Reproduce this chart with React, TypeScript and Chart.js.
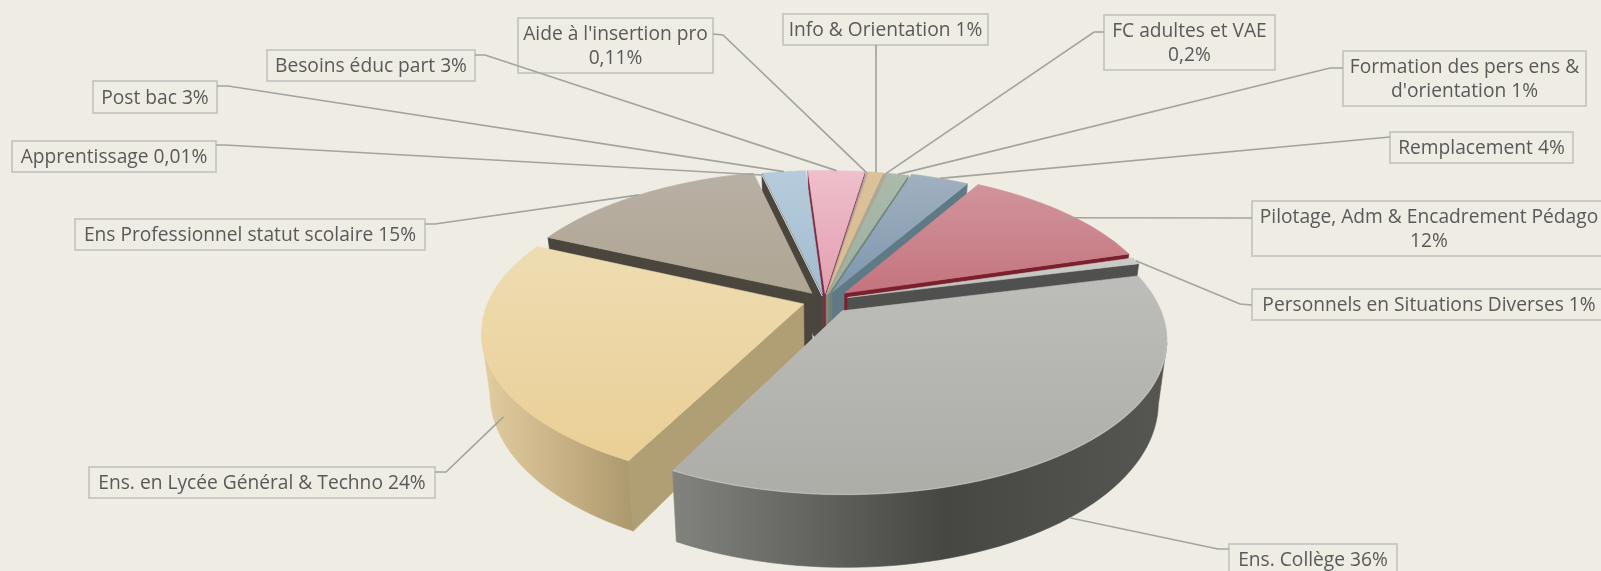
import React, { useEffect, useRef } from "react";
import { Chart, registerables } from "chart.js";

Chart.register(...registerables);

// ---- data (clockwise from the right-hand edge of "Ens. Collège")
const categories = [
  "Ens. Collège", "Ens. en Lycée Général & Techno", "Ens Professionnel statut scolaire",
  "Apprentissage", "Post bac", "Besoins éduc part", "Aide à l'insertion pro",
  "Info & Orientation", "FC adultes et VAE", "Formation des pers ens & d'orientation",
  "Remplacement", "Pilotage, Adm & Encadrement Pédago", "Personnels en Situations Diverses",
];
const shares = [36.3, 24.2, 14.5, 0.01, 2.6, 3.4, 0.11, 0.9, 0.2, 1.25, 3.5, 12, 0.7];
const labelLines = [
  ["Ens. Collège 36%"], ["Ens. en Lycée Général & Techno 24%"], ["Ens Professionnel statut scolaire 15%"],
  ["Apprentissage 0,01%"], ["Post bac 3%"], ["Besoins éduc part 3%"], ["Aide à l'insertion pro", "0,11%"],
  ["Info & Orientation 1%"], ["FC adultes et VAE", "0,2%"], ["Formation des pers ens &", "d'orientation 1%"],
  ["Remplacement 4%"], ["Pilotage, Adm & Encadrement Pédago", "12%"], ["Personnels en Situations Diverses 1%"],
];
const explode = [28, 22, 20, 10, 15, 15, 12, 15, 12, 15, 20, 26, 24];

// ---- styles
const topFrom = ["#bdbeb9", "#eedcb2", "#b9b0a5", "#f4f3ee", "#b6ccdc", "#efbfcc", "#b8a8a8", "#dcc29b", "#b0a898", "#abbaaa", "#a2b0c0", "#d1949c", "#cbccc7"];
const topTo = ["#acada7", "#eacf96", "#aea593", "#f0efe8", "#a2bccf", "#e39fb0", "#b0a0a0", "#d8bc90", "#a8a090", "#9eb0a0", "#7d97ad", "#c4747e", "#c0c1bc"];
const sideWall = ["#5a5b58", "#b09f75", "#4a463e", "#4a463e", "#4a5250", "#7a2d44", "#8a8070", "#b0a070", "#8a8a70", "#6f8478", "#5f7a85", "#7a1f2c", "#50514f"];
const rimFrom = ["#82837e", "#e2cda0", "#8a8376", "#8a8376", "#6f8090", "#b0707f", "#a8966f", "#a8966f", "#a8966f", "#6f8478", "#5f7a85", "#7a3a44", "#6a6b68"];
const rimMid = ["#464643", "#c8b285", "#6a6458", "#6a6458", "#5f7080", "#90505f", "#988660", "#988660", "#988660", "#5f7468", "#566e78", "#6a2f38", "#5a5b58"];
const rimTo = ["#565653", "#ad9a6e", "#5a5448", "#5a5448", "#55606c", "#80404f", "#887650", "#887650", "#887650", "#4f6458", "#4a5f68", "#5a2530", "#4e4f4c"];
const rimGlow = [0.2, 0, 0, 0, 0, 0, 0, 0, 0, 0, 0, 0, 0];

// ---- perspective of the tilted disc
const TILT = 0.467;
const PERSP = 0.177;
const DEPTH = 59;
const SHRINK = 0.025;
const RADIUS = 315;
const STEP = Math.PI / 90;

// ---- callout boxes: [left, top, right, bottom], then the elbow of the leader
const boxes = [
  [1229, 544, 1397, 575], [89, 467, 435, 498], [75, 219, 425, 250], [12, 141, 216, 172],
  [93, 81, 217, 113], [267, 50, 475, 81], [518, 18, 713, 73], [783, 14, 988, 45],
  [1104, 15, 1275, 70], [1343, 51, 1586, 106], [1390, 132, 1573, 163], [1252, 201, 1606, 256], [1252, 289, 1606, 320],
];
const elbows = [
  [1229, 549, 1218, 549], [435, 472, 446, 472], [425, 224, 435, 224], [216, 145, 225, 145],
  [217, 86, 228, 86], [475, 55, 485, 55], [713, 34, 723, 35], [876, 45, 876, 45],
  [1104, 32, 1094, 32], [1343, 68, 1330, 68], [1390, 137, 1390, 137], [1252, 218, 1252, 218], [1252, 305, 1240, 304],
];
const leaderDrop = [1, 1, 0, 0, 0, 0, 0, 0, 0, 0, 0, 0.1, 0];
const leaderReach = [1, 0.97, 1, 1, 1, 1, 1, 1, 1, 1, 1, 1, 1];

const FONT = '19.2px "Open Sans"';
const TEXT = "#595959";
const BOX = "#c6c7c2";
const LEADER = "#a3a4a0";
const PAGE = "#eeece3";

const pie3d = {
  id: "pie3d",
  beforeDatasetDraw(chart: any, args: any) {
    const ctx = chart.ctx as CanvasRenderingContext2D;
    const arcs = args.meta.data as any[];
    const project = (el: any, u: number, v: number, z: number) => {
      const w = 1 - PERSP * v;
      return [el.x + ((el.outerRadius * u) / w) * (1 - SHRINK * z), el.y + (el.outerRadius * TILT * v) / w + (z * DEPTH) / w];
    };
    const order = arcs.map((_, i) => i).sort((a, b) => {
      const ma = (arcs[a].startAngle + arcs[a].endAngle) / 2;
      const mb = (arcs[b].startAngle + arcs[b].endAngle) / 2;
      return Math.sin(ma) - Math.sin(mb);
    });
    const poly = (pts: number[][], fill: any) => {
      ctx.beginPath();
      pts.forEach((p, i) => (i ? ctx.lineTo(p[0], p[1]) : ctx.moveTo(p[0], p[1])));
      ctx.closePath();
      ctx.fillStyle = fill;
      ctx.fill();
      ctx.strokeStyle = fill;
      ctx.lineWidth = 0.6;
      ctx.stroke();
    };
    for (const i of order) {
      const el = arcs[i];
      const mid = (el.startAngle + el.endAngle) / 2;
      const off = (el.options.offset || 0) / el.outerRadius;
      const ou = off * Math.cos(mid);
      const ov = off * Math.sin(mid);
      const P = (a: number, r: number, z: number) => project(el, ou + r * Math.cos(a), ov + r * Math.sin(a), z);
      const n = Math.max(2, Math.ceil((el.endAngle - el.startAngle) / STEP));
      const angles = Array.from({ length: n + 1 }, (_, k) => el.startAngle + ((el.endAngle - el.startAngle) * k) / n);
      const apex = P(0, 0, 0);
      const apexB = P(0, 0, 1);
      const top = angles.map((a) => P(a, 1, 0));
      const midPt = P(mid, 1, 0);
      // radial walls which face the viewer
      for (const a of [el.startAngle, el.endAngle]) {
        const e = P(a, 1, 0);
        const dx = e[0] - apex[0];
        const dy = e[1] - apex[1];
        const inner = dx * (midPt[1] - apex[1]) - dy * (midPt[0] - apex[0]);
        if (inner * dx < 0) poly([apex, e, P(a, 1, 1), apexB], sideWall[i]);
      }
      // curved wall: only where the rim runs right-to-left on screen, i.e. faces the viewer
      const front = angles.filter((a, k) => {
        const prev = top[Math.max(k - 1, 0)];
        const next = top[Math.min(k + 1, n)];
        return next[0] < prev[0] && Math.sin(a) > -0.2;
      });
      if (front.length > 1) {
        const t = front.map((a) => P(a, 1, 0));
        const b = front.map((a) => P(a, 1, 1)).reverse();
        const xs = t.map((p) => p[0]);
        const g = ctx.createLinearGradient(Math.min(...xs), 0, Math.max(...xs), 0);
        g.addColorStop(0, rimFrom[i]);
        g.addColorStop(0.55, rimMid[i]);
        g.addColorStop(1, rimTo[i]);
        poly([...t, ...b], g);
      }
      // top face
      const ys = [apex[1], ...top.map((p) => p[1])];
      const g = ctx.createLinearGradient(0, Math.min(...ys), 0, Math.max(...ys));
      g.addColorStop(0, topFrom[i]);
      g.addColorStop(1, topTo[i]);
      poly([apex, ...top], g);
      // soft highlight along the front rim
      if (front.length > 1 && rimGlow[i] > 0) {
        ctx.beginPath();
        front.map((a) => P(a, 1, 0)).forEach((p, k) => (k ? ctx.lineTo(p[0], p[1]) : ctx.moveTo(p[0], p[1])));
        ctx.strokeStyle = `rgba(255,255,255,${rimGlow[i]})`;
        ctx.lineWidth = 1.5;
        ctx.stroke();
      }
    }
    return false;
  },
  afterDatasetsDraw(chart: any) {
    const ctx = chart.ctx as CanvasRenderingContext2D;
    const arcs = chart.getDatasetMeta(0).data as any[];
    ctx.save();
    ctx.font = FONT;
    ctx.textAlign = "center";
    ctx.textBaseline = "middle";
    arcs.forEach((_, i) => {
      const [l, t, r, b] = boxes[i];
      ctx.strokeStyle = BOX;
      ctx.lineWidth = 1.8;
      ctx.strokeRect(l, t, r - l, b - t);
      const lines = labelLines[i];
      ctx.fillStyle = TEXT;
      lines.forEach((s, k) => {
        const cy = (t + b) / 2 + (k - (lines.length - 1) / 2) * 24 + 1.5;
        ctx.fillText(s, (l + r) / 2, cy);
      });
    });
    arcs.forEach((el, i) => {
      const mid = (el.startAngle + el.endAngle) / 2;
      const off = (el.options.offset || 0) / el.outerRadius;
      const u = (leaderReach[i] + off) * Math.cos(mid);
      const v = (leaderReach[i] + off) * Math.sin(mid);
      const w = 1 - PERSP * v;
      const z = leaderDrop[i];
      const tx = el.x + ((el.outerRadius * u) / w) * (1 - SHRINK * z);
      const ty = el.y + (el.outerRadius * TILT * v) / w + (z * DEPTH) / w;
      const [x0, y0, x1, y1] = elbows[i];
      ctx.beginPath();
      ctx.moveTo(x0, y0);
      ctx.lineTo(x1, y1);
      ctx.lineTo(tx, ty);
      ctx.strokeStyle = LEADER;
      ctx.lineWidth = 1.7;
      ctx.stroke();
    });
    ctx.restore();
  },
};

export default function App() {
  const ref = useRef<HTMLCanvasElement>(null);
  useEffect(() => {
    const chart = new Chart(ref.current as HTMLCanvasElement, {
      type: "pie",
      data: {
        labels: categories,
        datasets: [{ data: shares, backgroundColor: topTo, offset: explode, borderWidth: 0 }],
      },
      options: {
        animation: false,
        responsive: false,
        rotation: 76,
        radius: RADIUS,
        layout: { padding: { left: 48, top: 30, right: 0, bottom: 0 } },
        plugins: { legend: { display: false }, tooltip: { enabled: false } },
        events: [],
      } as any,
      plugins: [pie3d as any],
    });
    return () => chart.destroy();
  }, []);
  return (
    <div style={{ position: "fixed", left: 0, top: 0, width: 1601, height: 571, background: PAGE, overflow: "hidden" }}>
      <canvas ref={ref} width={1601} height={571} style={{ display: "block" }} />
    </div>
  );
}
